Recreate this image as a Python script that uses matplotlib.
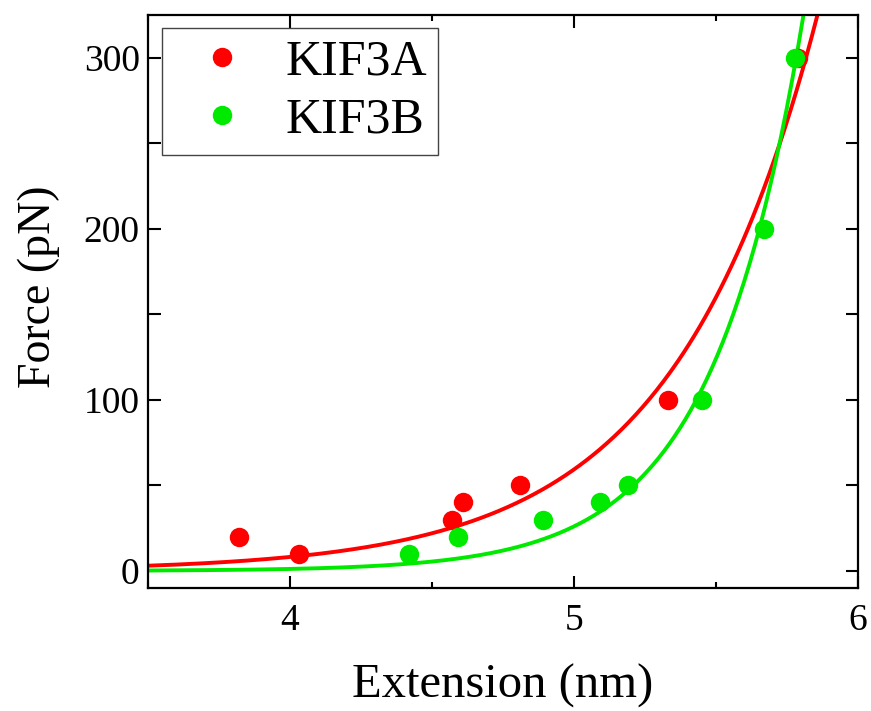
import numpy as np
import matplotlib
matplotlib.use("Agg")
import matplotlib.pyplot as plt
from matplotlib.ticker import MultipleLocator

kif3a_ext   = [3.82, 4.03, 4.57, 4.61, 4.81, 5.33, 5.79]
kif3a_force = [20, 10, 30, 40, 50, 100, 300]
kif3b_ext   = [4.42, 4.59, 4.89, 5.09, 5.19, 5.45, 5.67, 5.78]
kif3b_force = [10, 20, 30, 40, 50, 100, 200, 300]

# exponential fit params, F = A * exp((x - 5) / t)
kif3a_fit = (59.3, 0.504)
kif3b_fit = (26.0, 0.320)

RED   = "#ff0000"
GREEN = "#00ea00"

plt.rcParams["font.family"] = ["Liberation Serif", "DejaVu Serif"]

fig = plt.figure(figsize=(8.71, 7.11), dpi=100)
ax = fig.add_axes([0.170, 0.173, 0.815, 0.806])

xs = np.linspace(3.5, 6.0, 400)
for (A, t), col in ((kif3a_fit, RED), (kif3b_fit, GREEN)):
    ax.plot(xs, A * np.exp((xs - 5.0) / t), color=col, lw=2.8, zorder=2)

ax.plot(kif3a_ext, kif3a_force, "o", color=RED, ms=14, mec="none",
        label="KIF3A", zorder=3)
ax.plot(kif3b_ext, kif3b_force, "o", color=GREEN, ms=14, mec="none",
        label="KIF3B", zorder=4)

ax.set_xlim(3.5, 6.0)
ax.set_ylim(-10, 325)
ax.xaxis.set_major_locator(MultipleLocator(1))
ax.xaxis.set_minor_locator(MultipleLocator(0.5))
ax.yaxis.set_major_locator(MultipleLocator(100))
ax.yaxis.set_minor_locator(MultipleLocator(50))
ax.tick_params(which="both", direction="in", top=True, right=True,
               width=1.5, labelsize=27)
ax.tick_params(axis="x", which="both", pad=11)
ax.tick_params(axis="y", which="both", pad=6)
ax.tick_params(which="major", length=9)
ax.tick_params(axis="x", which="minor", length=4.5)
ax.tick_params(axis="y", which="minor", length=9)
for sp in ax.spines.values():
    sp.set_linewidth(1.6)

ax.set_xlabel("Extension (nm)", fontsize=35, labelpad=19)
ax.set_ylabel("Force (pN)", fontsize=33, labelpad=17, y=0.525)

leg = ax.legend(loc="upper left", bbox_to_anchor=(0.0197, 0.977),
                borderaxespad=0, fontsize=36, handlelength=1.96,
                handletextpad=0.28, borderpad=0.22, labelspacing=0.23,
                fancybox=False, framealpha=1, edgecolor="#444444")
leg.get_frame().set_linewidth(1.0)

fig.savefig("out.png", dpi=100)
